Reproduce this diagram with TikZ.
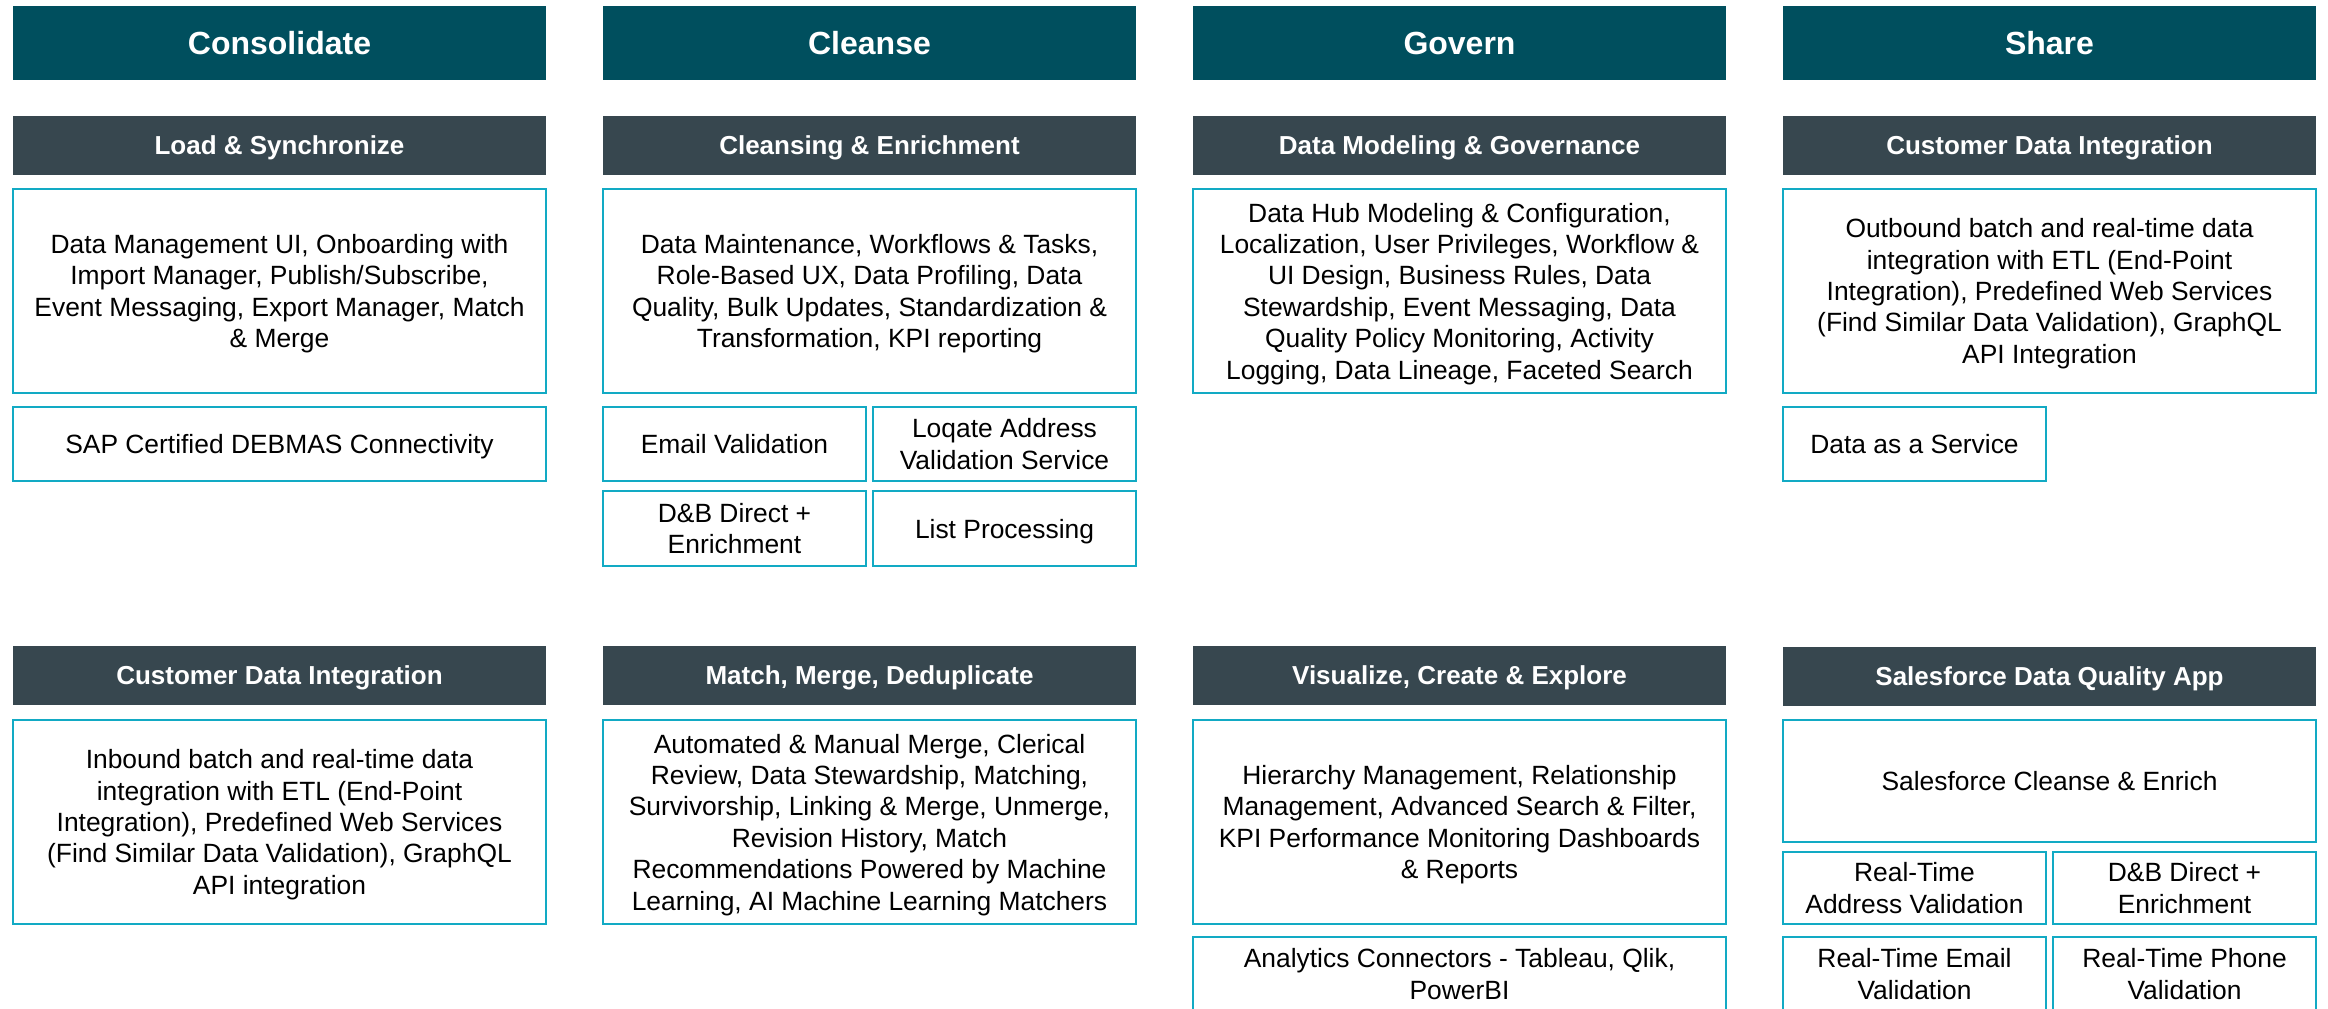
\documentclass[tikz,border=0pt]{standalone}
\usepackage{fontspec}
\setmainfont{Liberation Sans}
\usetikzlibrary{positioning}
\definecolor{cTeal}{RGB}{0,79,94}
\definecolor{cSlate}{RGB}{55,71,79}
\definecolor{cCyan}{RGB}{18,170,196}
\tikzset{
	colhead/.style={rectangle, fill=cTeal, text=white, font=\fontsize{16}{19}\selectfont\bfseries, minimum width=266.5pt, minimum height=37pt, inner sep=0pt, text depth=0pt},
	sechead/.style={rectangle, fill=cSlate, text=white, font=\fontsize{13}{16}\selectfont\bfseries, minimum width=266.5pt, minimum height=29.5pt, inner sep=0pt, text depth=0pt},
	featbox/.style={rectangle, draw=cCyan, line width=1pt, fill=white, align=center, font=\fontsize{13.2}{15.7}\selectfont, minimum width=266.5pt, inner sep=0pt, text depth=0pt},
	halfbox/.style={featbox, minimum width=131.5pt},
}

\begin{document}
\begin{tikzpicture}[x=0.5pt, y=-0.5pt]
	\clip (0,0) rectangle (2328,1008);
	\fill[white] (0,0) rectangle (2328,1008);
	% column headers
	\node[colhead] (hCons) at (279.5,43) {Consolidate};
	\node[colhead] (hClea) at (869.5,43) {Cleanse};
	\node[colhead] (hGove) at (1459.5,43) {Govern};
	\node[colhead] (hShar) at (2049.5,43) {Share};
	% consolidate
	\node[sechead] (sLoad) at (279.5,145.5) {Load \& Synchronize};
	\node[featbox, minimum height=102pt] (bLoad) at (279.5,291) {Data Management UI, Onboarding with\\ Import Manager, Publish/Subscribe,\\ Event Messaging, Export Manager, Match\\ \& Merge};
	\node[featbox, minimum height=37pt] (bSap) at (279.5,444) {SAP Certified DEBMAS Connectivity};
	\node[sechead] (sCdiIn) at (279.5,675.5) {Customer Data Integration};
	\node[featbox, minimum height=102pt] (bCdiIn) at (279.5,822) {Inbound batch and real-time data\\ integration with ETL (End-Point\\ Integration), Predefined Web Services\\ (Find Similar Data Validation), GraphQL\\ API integration};
	% cleanse
	\node[sechead] (sCle) at (869.5,145.5) {Cleansing \& Enrichment};
	\node[featbox, minimum height=102pt] (bCle) at (869.5,291) {Data Maintenance, Workflows \& Tasks,\\ Role-Based UX, Data Profiling, Data\\ Quality, Bulk Updates, Standardization \&\\ Transformation, KPI reporting};
	\node[halfbox, minimum height=37pt] (bEmail) at (734.5,444) {Email Validation};
	\node[halfbox, minimum height=37pt] (bLoqate) at (1004.5,444) {Loqate Address\\ Validation Service};
	\node[halfbox, minimum height=37.5pt] (bDnb) at (734.5,528.5) {D\&B Direct +\\ Enrichment};
	\node[halfbox, minimum height=37.5pt] (bList) at (1004.5,528.5) {List Processing};
	\node[sechead] (sMatch) at (869.5,675.5) {Match, Merge, Deduplicate};
	\node[featbox, minimum height=102pt] (bMatch) at (869.5,822) {Automated \& Manual Merge, Clerical\\ Review, Data Stewardship, Matching,\\ Survivorship, Linking \& Merge, Unmerge,\\ Revision History, Match\\ Recommendations Powered by Machine\\ Learning, AI Machine Learning Matchers};
	% govern
	\node[sechead] (sModel) at (1459.5,145.5) {Data Modeling \& Governance};
	\node[featbox, minimum height=102pt] (bModel) at (1459.5,291) {Data Hub Modeling \& Configuration,\\ Localization, User Privileges, Workflow \&\\ UI Design, Business Rules, Data\\ Stewardship, Event Messaging, Data\\ Quality Policy Monitoring, Activity\\ Logging, Data Lineage, Faceted Search};
	\node[sechead] (sVis) at (1459.5,675.5) {Visualize, Create \& Explore};
	\node[featbox, minimum height=102pt] (bVis) at (1459.5,822) {Hierarchy Management, Relationship\\ Management, Advanced Search \& Filter,\\ KPI Performance Monitoring Dashboards\\ \& Reports};
	\node[featbox, minimum height=37pt] (bAna) at (1459.5,974) {Analytics Connectors - Tableau, Qlik,\\ PowerBI};
	% share
	\node[sechead] (sCdiOut) at (2049.5,145.5) {Customer Data Integration};
	\node[featbox, minimum height=102pt] (bCdiOut) at (2049.5,291) {Outbound batch and real-time data\\ integration with ETL (End-Point\\ Integration), Predefined Web Services\\ (Find Similar Data Validation), GraphQL\\ API Integration};
	\node[halfbox, minimum height=37pt] (bDaas) at (1914.5,444) {Data as a Service};
	\node[sechead] (sSfdc) at (2049.5,676.5) {Salesforce Data Quality App};
	\node[featbox, minimum height=61pt] (bSfdc) at (2049.5,781) {Salesforce Cleanse \& Enrich};
	\node[halfbox, minimum height=36pt] (bRtAddr) at (1914.5,888) {Real-Time\\ Address Validation};
	\node[halfbox, minimum height=36pt] (bRtDnb) at (2184.5,888) {D\&B Direct +\\ Enrichment};
	\node[halfbox, minimum height=37pt] (bRtMail) at (1914.5,974) {Real-Time Email\\ Validation};
	\node[halfbox, minimum height=37pt] (bRtPhone) at (2184.5,974) {Real-Time Phone\\ Validation};
\end{tikzpicture}
\end{document}
